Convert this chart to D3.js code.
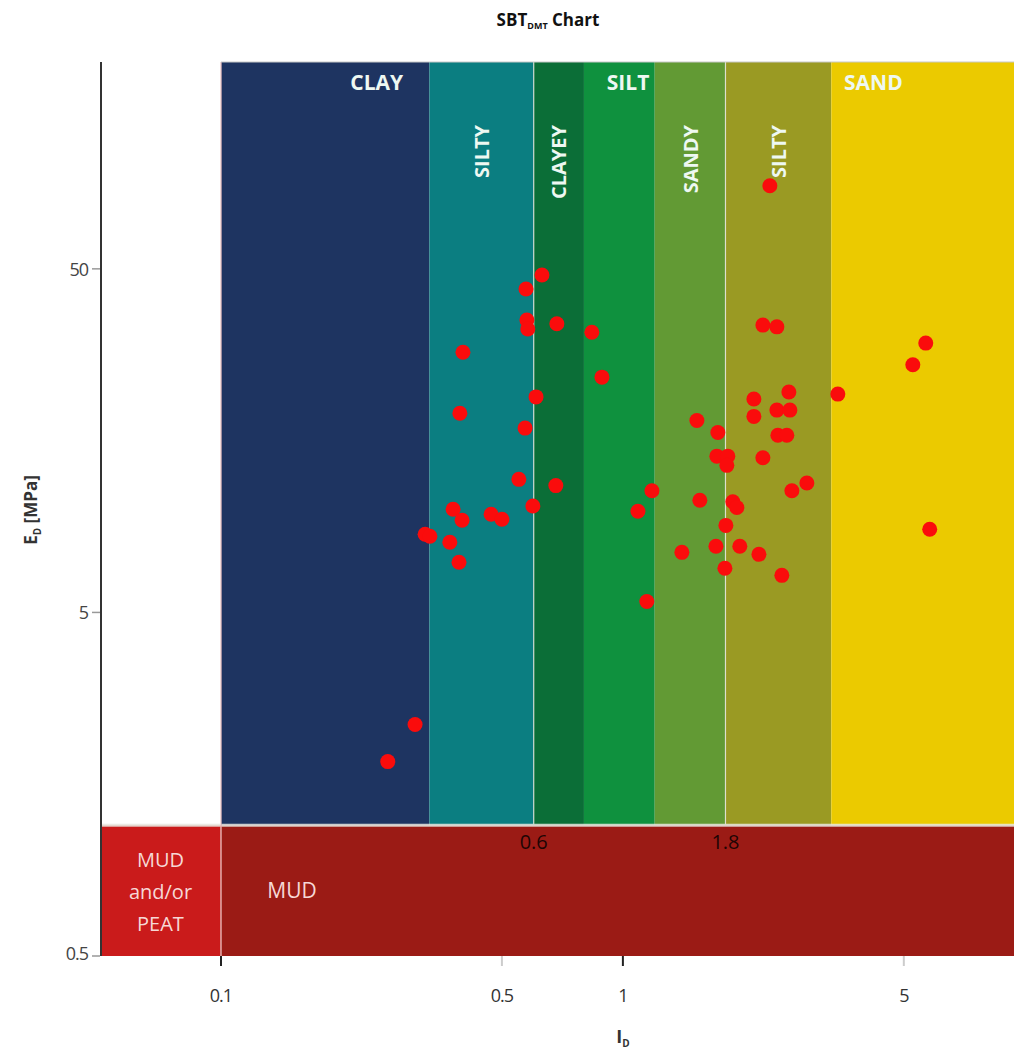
<!DOCTYPE html>
<html><head><meta charset="utf-8">
<script src="https://cdn.jsdelivr.net/npm/d3@7"></script>
<style>body{margin:0;background:#fff} svg{display:block}</style>
</head><body><svg id="c" width="1014" height="1052"></svg>
<script>
// ---- data ----
const zoneNames = ["CLAY", "SILTY CLAY", "CLAYEY SILT", "SILT", "SANDY SILT", "SILTY SAND", "SAND"];
const zoneLowerId = [0.1, 0.33, 0.6, 0.8, 1.2, 1.8, 3.3];
const edMudLimit = 1.2;
const markedBoundaries = [0.6, 1.8];
const idValues = [0.629,0.574,0.577,0.580,0.685,0.837,0.400,0.887,0.608,0.393,0.571,0.551,0.681,0.597,0.378,0.398,0.470,0.500,0.322,0.331,0.371,0.391,1.181,1.09,1.402,1.147,2.23,2.416,5.67,5.265,2.588,3.426,2.118,2.416,2.603,2.118,1.528,1.723,2.43,2.558,1.713,1.824,1.814,2.23,2.869,2.633,1.554,1.877,1.921,1.804,1.704,1.954,2.18,1.794,2.486,5.80,2.321,0.304,0.260];
const edValues = [48.0,43.7,35.5,33.4,34.6,32.7,28.6,24.2,21.2,19.0,17.2,12.2,11.7,10.2,9.98,9.27,9.65,9.34,8.44,8.33,8.0,7.0,11.3,9.85,7.48,5.38,34.3,33.9,30.4,26.3,21.9,21.6,20.9,19.4,19.4,18.6,18.1,16.7,16.4,16.4,14.25,14.25,13.4,14.1,11.9,11.3,10.6,10.5,10.1,8.96,7.79,7.79,7.38,6.72,6.41,8.73,87.3,2.36,1.84];
const xTickValues = [0.1, 0.5, 1, 5];
const yTickValues = [0.5, 5, 50];

// ---- styles ----
const zoneColors = ["#1e3461","#0b7e81","#0b6e37","#0f913e","#629a34","#9a9a23","#ebca00"];
const mudColor = "#9b1b15", peatColor = "#ca1b1b";
const F = "'Open Sans', 'DejaVu Sans', sans-serif";

const svg = d3.select("#c");
const x = d3.scaleLog().domain([0.05, 9.4]).range([100, 1014]);
const y = d3.scaleLog().domain([0.5, 200]).range([956, 62]);
const [x0, x1] = x.range();
const [yb, yt] = y.range();

const zones = zoneNames.map((n, i) => ({
  name: n, lo: zoneLowerId[i], hi: i < zoneNames.length - 1 ? zoneLowerId[i + 1] : x.domain()[1], color: zoneColors[i]
}));

// zone bands
svg.append("g").selectAll("rect").data(zones).join("rect")
  .attr("x", d => x(d.lo)).attr("width", d => x(d.hi) - x(d.lo))
  .attr("y", yt).attr("height", y(edMudLimit) - yt)
  .attr("fill", d => d.color);

// mud bands
svg.append("rect").attr("x", x0).attr("width", x(0.1) - x0)
  .attr("y", y(edMudLimit)).attr("height", yb - y(edMudLimit)).attr("fill", peatColor);
svg.append("rect").attr("x", x(0.1)).attr("width", x1 - x(0.1))
  .attr("y", y(edMudLimit)).attr("height", yb - y(edMudLimit)).attr("fill", mudColor);

// light separators
const sep = svg.append("g").attr("stroke", "#e8e8e0").attr("stroke-width", 1.5).attr("opacity", 0.85);
sep.append("line").attr("x1", x0).attr("x2", x1).attr("y1", y(edMudLimit)).attr("y2", y(edMudLimit)).attr("stroke-width", 3);
sep.append("line").attr("x1", x(0.1)).attr("x2", x(0.1)).attr("y1", yt).attr("y2", yb).attr("stroke", "#f0c8c8");
markedBoundaries.forEach(v => sep.append("line").attr("x1", x(v)).attr("x2", x(v)).attr("y1", yt).attr("y2", y(edMudLimit)).attr("stroke-width", 1.2));
svg.append("line").attr("x1", x(0.1)).attr("x2", x1).attr("y1", yt).attr("y2", yt).attr("stroke", "#c8c8c8").attr("stroke-width", 1);

// zone labels
const labelFill = "#eef8f2";
const horiz = [{t:"CLAY", v:0.244},{t:"SILT", v:1.03},{t:"SAND", v:4.2}];
svg.append("g").selectAll("text").data(horiz).join("text")
  .attr("x", d => x(d.v)).attr("y", 82).attr("text-anchor", "middle").attr("dominant-baseline", "central")
  .attr("font-family", F).attr("font-weight", 700).attr("font-size", 21).attr("fill", labelFill).text(d => d.t);
const vert = [{t:"SILTY", z:1},{t:"CLAYEY", z:2},{t:"SANDY", z:4},{t:"SILTY", z:5}];
svg.append("g").selectAll("text").data(vert).join("text")
  .attr("transform", d => {
    const mid = (x(zones[d.z].lo) + x(zones[d.z].hi)) / 2;
    return `translate(${mid},125) rotate(-90)`;
  })
  .attr("text-anchor", "end").attr("dominant-baseline", "central")
  .attr("font-family", F).attr("font-weight", 700).attr("font-size", 20).attr("fill", labelFill).text(d => d.t);

// mud labels
const mudFill = "#f6d8d6";
const peatLines = ["MUD", "and/or", "PEAT"];
svg.append("g").selectAll("text").data(peatLines).join("text")
  .attr("x", (x0 + x(0.1)) / 2).attr("y", (d, i) => 859 + i * 32)
  .attr("text-anchor", "middle").attr("dominant-baseline", "central")
  .attr("font-family", F).attr("font-size", 20).attr("fill", mudFill).text(d => d);
svg.append("text").attr("x", 292).attr("y", 890).attr("text-anchor", "middle").attr("dominant-baseline", "central")
  .attr("font-family", F).attr("font-size", 21).attr("fill", mudFill).text("MUD");
svg.append("g").selectAll("text").data(markedBoundaries).join("text")
  .attr("x", d => x(d)).attr("y", 841).attr("text-anchor", "middle").attr("dominant-baseline", "central")
  .attr("font-family", F).attr("font-size", 20).attr("fill", "#1e0504").text(d => d.toString());

// points
svg.append("g").selectAll("circle").data(idValues.map((v, i) => [v, edValues[i]])).join("circle")
  .attr("cx", d => x(d[0])).attr("cy", d => y(d[1])).attr("r", 7.5).attr("fill", "#fa0c0c");

// y axis
const ya = svg.append("g");
ya.append("line").attr("x1", x0 + 1).attr("x2", x0 + 1).attr("y1", yt).attr("y2", yb).attr("stroke", "#333").attr("stroke-width", 2);
ya.selectAll("line.t").data(yTickValues).join("line").attr("class", "t")
  .attr("x1", x0 - 8).attr("x2", x0).attr("y1", d => y(d)).attr("y2", d => y(d)).attr("stroke", "#999").attr("stroke-width", 1.5);
ya.selectAll("text").data(yTickValues).join("text")
  .attr("x", x0 - 12).attr("y", d => y(d) - (d === 0.5 ? 3 : 0)).attr("text-anchor", "end").attr("dominant-baseline", "central")
  .attr("font-family", F).attr("font-size", 18).attr("letter-spacing", -1).attr("fill", "#444").text(d => d);

// x axis
const xa = svg.append("g");
xa.selectAll("line").data(xTickValues).join("line")
  .attr("x1", d => x(d)).attr("x2", d => x(d)).attr("y1", yb).attr("y2", yb + 10)
  .attr("stroke", d => (d === 0.1 || d === 1) ? "#222" : "#ccc").attr("stroke-width", 2);
xa.selectAll("text").data(xTickValues).join("text")
  .attr("x", d => x(d)).attr("y", 995).attr("text-anchor", "middle").attr("dominant-baseline", "central")
  .attr("font-family", F).attr("font-size", 18).attr("letter-spacing", -1).attr("fill", "#333").text(d => d);

// title
const title = svg.append("text").attr("x", 548).attr("y", 26).attr("text-anchor", "middle")
  .attr("font-family", F).attr("font-weight", 700).attr("font-size", 17).attr("fill", "#111");
title.append("tspan").text("SBT");
title.append("tspan").attr("font-size", 9).attr("dy", 3).text("DMT");
title.append("tspan").attr("dy", -3).text(" Chart");

// axis titles
const yl = svg.append("text").attr("transform", "translate(37,510) rotate(-90)").attr("text-anchor", "middle")
  .attr("font-family", F).attr("font-weight", 700).attr("font-size", 17).attr("fill", "#333");
yl.append("tspan").text("E");
yl.append("tspan").attr("font-size", 10).attr("dy", 4).text("D");
yl.append("tspan").attr("dy", -4).text(" [MPa]");
const xl = svg.append("text").attr("x", x(1)).attr("y", 1043).attr("text-anchor", "middle")
  .attr("font-family", F).attr("font-weight", 700).attr("font-size", 18).attr("fill", "#333");
xl.append("tspan").text("I");
xl.append("tspan").attr("font-size", 10).attr("dy", 4).text("D");
</script></body></html>
